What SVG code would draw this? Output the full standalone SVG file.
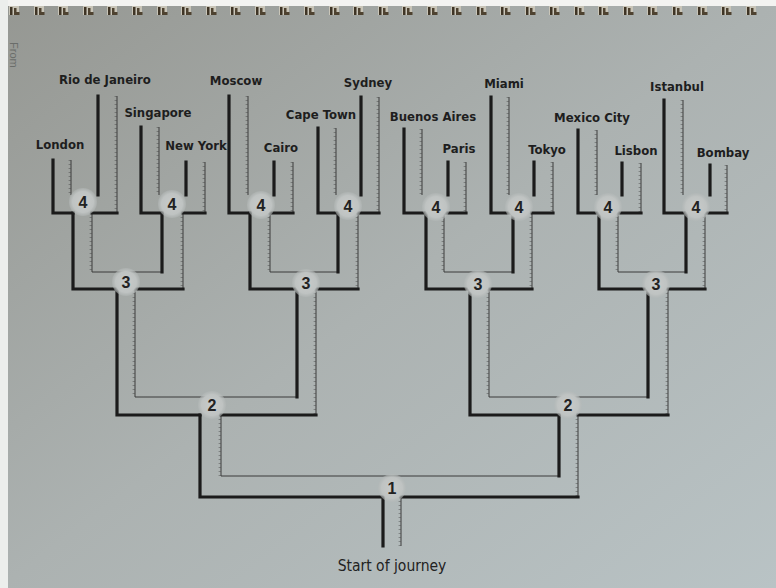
<svg xmlns="http://www.w3.org/2000/svg" xmlns:xlink="http://www.w3.org/1999/xlink" width="776" height="588" viewBox="0 0 776 588">
<defs>
<linearGradient id="bg" x1="0" y1="0" x2="1" y2="1">
<stop offset="0" stop-color="#959792"/>
<stop offset="0.5" stop-color="#acb2b1"/>
<stop offset="1" stop-color="#b9c3c5"/>
</linearGradient>
<radialGradient id="nd">
<stop offset="0" stop-color="#c8cbca"/>
<stop offset="0.75" stop-color="#bfc3c2"/>
<stop offset="1" stop-color="#b4b9b8" stop-opacity="0.5"/>
</radialGradient>
<g id="bind">
<rect x="0" y="6" width="10" height="9" fill="#c9c5b8"/>
<rect x="1" y="7" width="2.5" height="8" fill="#3f3526"/>
<path d="M5 8h2.5v4h3v3h-5.5z" fill="#4e4230"/>
</g>
</defs>
<style>
.lbl{font-family:"Liberation Sans Narrow","DejaVu Sans Condensed","Liberation Sans",sans-serif;font-weight:bold;font-size:13px;fill:#1e1e1e;text-anchor:middle}
.num{font-family:"Liberation Sans","DejaVu Sans",sans-serif;font-weight:bold;font-size:16px;fill:#222;text-anchor:middle}
.start{font-family:"Liberation Sans Narrow","DejaVu Sans Condensed","Liberation Sans",sans-serif;font-size:15.5px;fill:#222;text-anchor:middle}
.k{fill:none;stroke:#1b1b1b;stroke-width:3.2;stroke-linecap:square}
.t{fill:none;stroke:#3a3a3a;stroke-width:1}
.node circle{fill:url(#nd)}
</style>
<rect width="776" height="588" fill="url(#bg)"/>
<rect width="776" height="6" fill="#f3f3f1"/>
<rect width="8" height="588" fill="#eceeec"/>
<g id="binding">
<use href="#bind" x="9"/><use href="#bind" x="34"/><use href="#bind" x="58"/><use href="#bind" x="83"/><use href="#bind" x="107"/><use href="#bind" x="132"/><use href="#bind" x="157"/><use href="#bind" x="181"/><use href="#bind" x="206"/><use href="#bind" x="230"/><use href="#bind" x="255"/><use href="#bind" x="279"/><use href="#bind" x="304"/><use href="#bind" x="329"/><use href="#bind" x="353"/><use href="#bind" x="378"/><use href="#bind" x="402"/><use href="#bind" x="427"/><use href="#bind" x="451"/><use href="#bind" x="476"/><use href="#bind" x="500"/><use href="#bind" x="525"/><use href="#bind" x="549"/><use href="#bind" x="574"/><use href="#bind" x="598"/><use href="#bind" x="623"/><use href="#bind" x="647"/><use href="#bind" x="672"/><use href="#bind" x="697"/><use href="#bind" x="721"/><use href="#bind" x="746"/>
</g>
<text transform="translate(10 42) rotate(90)" font-family="Liberation Sans Narrow, Liberation Sans, sans-serif" font-size="11" fill="#6a6d6a">From</text>

<g id="connectors">
<g id="thinV">
<path d="M71 160V195 M117 96V213 M159 127V195 M205 162V213 M248 96V195 M293 162V213 M336 128V195 M379 97V213 M422 129V195 M466 162V213 M509 97V195 M553 162V213 M597 130V195 M641 163V213 M683 100V195 M727 165V213"/>
<path d="M92 213V272 M183 213V289 M270 213V272 M358 213V289 M444 213V272 M532 213V289 M618 213V272 M705 213V289"/>
<path d="M135 289V397 M316 289V415 M489 289V397 M668 289V415"/>
<path d="M221 415V476 M578 415V497 M401 497V546"/>
</g>
<use href="#thinV" class="t"/>
<use href="#thinV" fill="none" stroke="#3a3a3a" stroke-width="2.2" stroke-dasharray="0.8 3.2" transform="translate(-1.3 0)" opacity="0.55"/>
<path class="t" d="M92 272H162 M270 272H338 M444 272H513 M618 272H686 M135 397H297 M489 397H648 M221 476H559"/>
<path class="k" d="M53 160V213H73 M98 96V195 M92 213H117 M141 127V213H162 M186 162V195 M183 213H205 M229 96V213H250 M274 162V195 M270 213H293 M318 128V213H338 M361 97V195 M358 213H379 M404 129V213H426 M448 162V195 M444 213H466 M491 97V213H513 M534 162V195 M532 213H553 M578 130V213H599 M622 163V195 M618 213H641 M664 100V213H686 M710 165V195 M705 213H727"/>
<path class="k" d="M73 213V289H117 M162 213V272 M135 289H183 M250 213V289H297 M338 213V272 M316 289H358 M426 213V289H470 M513 213V272 M489 289H532 M599 213V289H648 M686 213V272 M668 289H705"/>
<path class="k" stroke-dasharray="40 3 70 3 200" d="M117 289V415H200 M297 289V397 M221 415H316 M470 289V415H559 M648 289V397 M578 415H668"/>
<path class="k" stroke-dasharray="62 3 45 3 200" d="M200 415V497H383 M559 415V476 M401 497H578 M383 497V546"/>
</g>

<g id="n1" class="node"><circle cx="392" cy="488" r="14"/><text class="num" x="392" y="494">1</text></g>
<g id="n2a" class="node"><circle cx="212" cy="405" r="14"/><text class="num" x="212" y="411">2</text></g>
<g id="n2b" class="node"><circle cx="568" cy="405" r="14"/><text class="num" x="568" y="411">2</text></g>
<g id="n3a" class="node"><circle cx="126" cy="282" r="14"/><text class="num" x="126" y="288">3</text></g>
<g id="n3b" class="node"><circle cx="306" cy="283" r="14"/><text class="num" x="306" y="289">3</text></g>
<g id="n3c" class="node"><circle cx="478" cy="284" r="14"/><text class="num" x="478" y="290">3</text></g>
<g id="n3d" class="node"><circle cx="656" cy="284" r="14"/><text class="num" x="656" y="290">3</text></g>
<g id="n4a" class="node"><circle cx="83" cy="202" r="14"/><text class="num" x="83" y="208">4</text></g>
<g id="n4b" class="node"><circle cx="172" cy="204" r="14"/><text class="num" x="172" y="210">4</text></g>
<g id="n4c" class="node"><circle cx="261" cy="205" r="14"/><text class="num" x="261" y="211">4</text></g>
<g id="n4d" class="node"><circle cx="348" cy="206" r="14"/><text class="num" x="348" y="212">4</text></g>
<g id="n4e" class="node"><circle cx="436" cy="207" r="14"/><text class="num" x="436" y="213">4</text></g>
<g id="n4f" class="node"><circle cx="519" cy="207" r="14"/><text class="num" x="519" y="213">4</text></g>
<g id="n4g" class="node"><circle cx="608" cy="207" r="14"/><text class="num" x="608" y="213">4</text></g>
<g id="n4h" class="node"><circle cx="696" cy="207" r="14"/><text class="num" x="696" y="213">4</text></g>

<g id="london"><text class="lbl" x="60" y="149">London</text></g>
<g id="rio"><text class="lbl" x="105" y="84">Rio de Janeiro</text></g>
<g id="singapore"><text class="lbl" x="158" y="117">Singapore</text></g>
<g id="newyork"><text class="lbl" x="196" y="150">New York</text></g>
<g id="moscow"><text class="lbl" x="236" y="85">Moscow</text></g>
<g id="cairo"><text class="lbl" x="281" y="152">Cairo</text></g>
<g id="capetown"><text class="lbl" x="321" y="119">Cape Town</text></g>
<g id="sydney"><text class="lbl" x="368" y="87">Sydney</text></g>
<g id="buenosaires"><text class="lbl" x="433" y="121">Buenos Aires</text></g>
<g id="paris"><text class="lbl" x="459" y="153">Paris</text></g>
<g id="miami"><text class="lbl" x="504" y="88">Miami</text></g>
<g id="tokyo"><text class="lbl" x="547" y="154">Tokyo</text></g>
<g id="mexicocity"><text class="lbl" x="592" y="122">Mexico City</text></g>
<g id="lisbon"><text class="lbl" x="636" y="155">Lisbon</text></g>
<g id="istanbul"><text class="lbl" x="677" y="91">Istanbul</text></g>
<g id="bombay"><text class="lbl" x="723" y="157">Bombay</text></g>
<g id="start"><text class="start" x="392" y="571">Start of journey</text></g>
</svg>
